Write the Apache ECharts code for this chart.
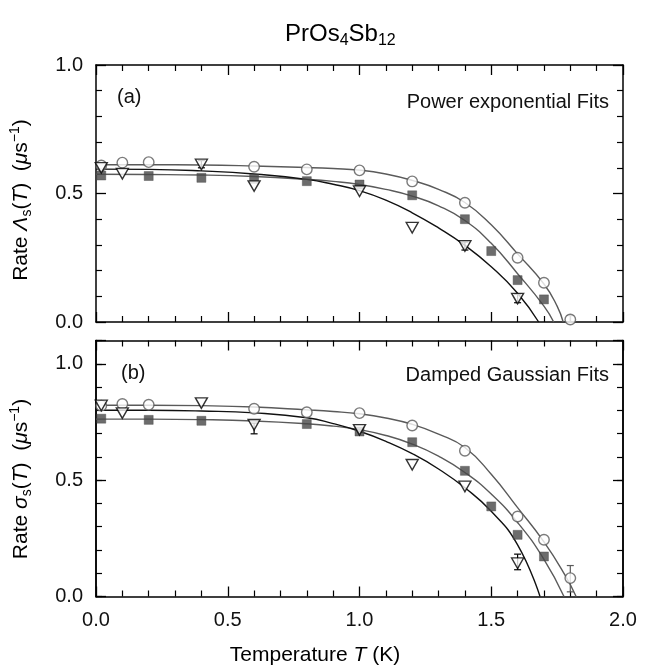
<!DOCTYPE html>
<html>
<head>
<meta charset="utf-8">
<script src="https://cdn.jsdelivr.net/npm/echarts@6/dist/echarts.min.js"></script>
<style>
html,body{margin:0;padding:0;background:#fff;}
#chart{width:649px;height:668px;}
</style>
</head>
<body>
<div id="chart"></div>
<script>
// ---------- Data: panel (a) Power exponential fits ----------
const aCircT = [0.02, 0.1, 0.2, 0.6, 0.8, 1.0, 1.2, 1.4, 1.6, 1.7, 1.8];
const aCircV = [0.609, 0.620, 0.622, 0.604, 0.594, 0.590, 0.547, 0.464, 0.250, 0.153, 0.010];
const aSqT   = [0.02, 0.2, 0.4, 0.6, 0.8, 1.0, 1.2, 1.4, 1.5, 1.6, 1.7];
const aSqV   = [0.570, 0.568, 0.561, 0.557, 0.548, 0.535, 0.493, 0.400, 0.276, 0.163, 0.088];
const aTriT  = [0.02, 0.1, 0.4, 0.6, 1.0, 1.2, 1.4, 1.6];
const aTriV  = [0.600, 0.577, 0.613, 0.529, 0.509, 0.367, 0.296, 0.091];

// fit curves
const aFitCircT = [0, 0.2, 0.4, 0.6, 0.8, 0.9, 1.0, 1.1, 1.2, 1.3, 1.4, 1.5, 1.6, 1.7, 1.75, 1.773];
const aFitCircV = [0.612, 0.612, 0.611, 0.607, 0.601, 0.597, 0.591, 0.576, 0.551, 0.516, 0.465, 0.378, 0.265, 0.148, 0.062, 0.0];
const aFitSqT   = [0, 0.2, 0.4, 0.6, 0.8, 0.9, 1.0, 1.1, 1.2, 1.3, 1.4, 1.5, 1.6, 1.7, 1.737];
const aFitSqV   = [0.575, 0.574, 0.572, 0.566, 0.555, 0.547, 0.535, 0.516, 0.490, 0.452, 0.395, 0.306, 0.188, 0.062, 0.0];
const aFitTriT  = [0, 0.2, 0.4, 0.6, 0.8, 0.9, 1.0, 1.1, 1.2, 1.3, 1.4, 1.5, 1.6, 1.68];
const aFitTriV  = [0.595, 0.594, 0.588, 0.576, 0.555, 0.536, 0.511, 0.474, 0.425, 0.366, 0.298, 0.215, 0.112, 0.0];

// error bars [T, low, high]
const aErrCirc = [[1.8, 0.0, 0.025]];
const aErrTri  = [[0.4, 0.600, 0.628], [1.4, 0.280, 0.311], [1.6, 0.075, 0.108]];

// ---------- Data: panel (b) Damped Gaussian fits ----------
const bCircT = [0.02, 0.1, 0.2, 0.6, 0.8, 1.0, 1.2, 1.4, 1.6, 1.7, 1.8];
const bCircV = [0.820, 0.827, 0.824, 0.807, 0.792, 0.788, 0.735, 0.626, 0.344, 0.244, 0.079];
const bSqT   = [0.02, 0.2, 0.4, 0.8, 1.0, 1.2, 1.4, 1.5, 1.6, 1.7];
const bSqV   = [0.764, 0.759, 0.755, 0.741, 0.709, 0.663, 0.540, 0.387, 0.265, 0.172];
const bTriT  = [0.02, 0.1, 0.4, 0.6, 1.0, 1.2, 1.4, 1.6];
const bTriV  = [0.821, 0.788, 0.831, 0.738, 0.716, 0.566, 0.473, 0.143];

const bFitCircT = [0, 0.2, 0.4, 0.6, 0.8, 0.9, 1.0, 1.1, 1.2, 1.3, 1.4, 1.5, 1.6, 1.7, 1.78, 1.822];
const bFitCircV = [0.822, 0.822, 0.820, 0.814, 0.802, 0.795, 0.785, 0.767, 0.740, 0.698, 0.640, 0.525, 0.382, 0.235, 0.092, 0.0];
const bFitSqT   = [0, 0.2, 0.4, 0.6, 0.8, 0.9, 1.0, 1.1, 1.2, 1.3, 1.4, 1.5, 1.6, 1.7, 1.776];
const bFitSqV   = [0.762, 0.762, 0.760, 0.754, 0.742, 0.732, 0.717, 0.692, 0.655, 0.603, 0.533, 0.440, 0.318, 0.160, 0.0];
const bFitTriT  = [0, 0.2, 0.4, 0.6, 0.8, 0.9, 1.0, 1.1, 1.2, 1.3, 1.4, 1.5, 1.6, 1.685];
const bFitTriV  = [0.800, 0.800, 0.797, 0.789, 0.768, 0.743, 0.710, 0.667, 0.614, 0.548, 0.467, 0.366, 0.222, 0.0];

const bErrCirc = [[1.8, 0.020, 0.133]];
const bErrTri  = [[0.6, 0.699, 0.745], [1.6, 0.115, 0.182]];

const xTicks = ['0.0', '0.5', '1.0', '1.5', '2.0'];

// ---------- helpers ----------
const zip = (xs, ys) => xs.map((x, i) => [x, ys[i]]);
const FONT = '"Liberation Sans", Arial, sans-serif';
const GREY = '#5a5a5a';
const SQ = '#474747';

function baseAxis(extra) {
  return Object.assign({
    type: 'value',
    axisLine: { show: true, onZero: false, lineStyle: { color: '#000', width: 1.5 } },
    axisTick: { show: true, inside: true, length: 10, lineStyle: { color: '#000', width: 1.3 } },
    splitLine: { show: false },
    axisLabel: { show: false }
  }, extra);
}
const labelStyle = { show: true, color: '#111', fontSize: 20, fontFamily: FONT };

function xAxes(grid, showLabels) {
  const common = { gridIndex: grid, min: 0, max: 2, interval: 0.5,
    minorTick: { show: true, splitNumber: 5, length: 6, lineStyle: { color: '#000', width: 1.2 } } };
  return [
    baseAxis(Object.assign({}, common, { position: 'bottom',
      axisLabel: showLabels ? Object.assign({}, labelStyle, { margin: 14,
        formatter: v => xTicks[Math.round(v * 2)] }) : { show: false } })),
    baseAxis(Object.assign({}, common, { position: 'top' }))
  ];
}

function fmtY(v) {
  const k = Math.round(v * 2);
  return Math.abs(v * 2 - k) < 1e-6 ? v.toFixed(1) : '';
}

const minorY = { show: true, splitNumber: 5, length: 6, lineStyle: { color: '#000', width: 1.2 } };
const yAxes = [
  // grid 0
  baseAxis({ gridIndex: 0, position: 'left', min: 0, max: 1.0, interval: 0.5, minorTick: minorY,
    axisLabel: Object.assign({}, labelStyle, { margin: 13, formatter: fmtY }) }),
  baseAxis({ gridIndex: 0, position: 'right', min: 0, max: 1.0, interval: 0.5, minorTick: minorY }),
  // grid 1 (max 1.1): major ticks + separate minor ticks axis
  baseAxis({ gridIndex: 1, position: 'left', min: 0, max: 1.1, interval: 0.5,
    axisLabel: Object.assign({}, labelStyle, { margin: 13, formatter: fmtY }) }),
  baseAxis({ gridIndex: 1, position: 'left', min: 0, max: 1.1, interval: 0.1,
    axisTick: { show: true, inside: true, length: 6, lineStyle: { color: '#000', width: 1.2 } } }),
  baseAxis({ gridIndex: 1, position: 'right', min: 0, max: 1.1, interval: 0.5 }),
  baseAxis({ gridIndex: 1, position: 'right', min: 0, max: 1.1, interval: 0.1,
    axisTick: { show: true, inside: true, length: 6, lineStyle: { color: '#000', width: 1.2 } } })
];

function fitLine(xs, ys, color, xi, yi) {
  return { type: 'line', xAxisIndex: xi, yAxisIndex: yi, data: zip(xs, ys),
    smooth: 0.5, showSymbol: false, symbol: 'none', silent: true, z: 2,
    lineStyle: { color: color, width: 1.4 } };
}
function scatter(xs, ys, kind, xi, yi) {
  const s = { type: 'scatter', xAxisIndex: xi, yAxisIndex: yi, data: zip(xs, ys), z: 5, silent: true };
  if (kind === 'circ') {
    s.symbol = 'circle'; s.symbolSize = 10.5;
    s.itemStyle = { color: '#fff', borderColor: GREY, borderWidth: 1.4 };
  } else if (kind === 'sq') {
    s.symbol = 'rect'; s.symbolSize = 9;
    s.itemStyle = { color: SQ, borderColor: SQ, borderWidth: 0.5 };
  } else {
    s.symbol = 'triangle'; s.symbolSize = [12, 10.5]; s.symbolRotate = 180;
    s.itemStyle = { color: '#fff', borderColor: '#000', borderWidth: 1.4 };
  }
  return s;
}
function errBars(data, color, xi, yi) {
  return { type: 'custom', xAxisIndex: xi, yAxisIndex: yi, data: data, z: 4, silent: true,
    renderItem: function (params, api) {
      const lo = api.coord([api.value(0), api.value(1)]);
      const hi = api.coord([api.value(0), api.value(2)]);
      const st = { stroke: color, lineWidth: 1.2 };
      return { type: 'group', children: [
        { type: 'line', shape: { x1: lo[0], y1: lo[1], x2: hi[0], y2: hi[1] }, style: st },
        { type: 'line', shape: { x1: lo[0] - 3.5, y1: lo[1], x2: lo[0] + 3.5, y2: lo[1] }, style: st },
        { type: 'line', shape: { x1: hi[0] - 3.5, y1: hi[1], x2: hi[0] + 3.5, y2: hi[1] }, style: st }
      ]};
    } };
}

const series = [
  fitLine(aFitCircT, aFitCircV, GREY, 0, 0),
  fitLine(aFitSqT, aFitSqV, GREY, 0, 0),
  fitLine(aFitTriT, aFitTriV, '#111', 0, 0),
  errBars(aErrCirc, GREY, 0, 0),
  errBars(aErrTri, '#000', 0, 0),
  scatter(aCircT, aCircV, 'circ', 0, 0),
  scatter(aSqT, aSqV, 'sq', 0, 0),
  scatter(aTriT, aTriV, 'tri', 0, 0),

  fitLine(bFitCircT, bFitCircV, GREY, 2, 2),
  fitLine(bFitSqT, bFitSqV, GREY, 2, 2),
  fitLine(bFitTriT, bFitTriV, '#111', 2, 2),
  errBars(bErrCirc, GREY, 2, 2),
  errBars(bErrTri, '#000', 2, 2),
  scatter(bCircT, bCircV, 'circ', 2, 2),
  scatter(bSqT, bSqV, 'sq', 2, 2),
  scatter(bTriT, bTriV, 'tri', 2, 2)
];

const richName = {
  n: { fontSize: 21, fontFamily: FONT, color: '#111', lineHeight: 26 },
  i: { fontSize: 21, fontFamily: FONT, color: '#111', fontStyle: 'italic', lineHeight: 26 },
  sub: { fontSize: 14, fontFamily: FONT, color: '#111', verticalAlign: 'bottom', lineHeight: 14 },
  sup: { fontSize: 14, fontFamily: FONT, color: '#111', verticalAlign: 'top', lineHeight: 14 }
};

const chart = echarts.init(document.getElementById('chart'), null, { renderer: 'canvas' });
chart.setOption({
  backgroundColor: '#fff',
  animation: false,
  grid: [
    { left: 96, top: 65, width: 527, height: 257 },
    { left: 96, top: 340.5, width: 527, height: 256 }
  ],
  xAxis: xAxes(0, false).concat(xAxes(1, true)),
  yAxis: yAxes,
  series: series,
  graphic: [
    { type: 'text', left: 285, top: 22, style: {
      text: '{t|PrOs}{s|4}{t|Sb}{s|12}', rich: {
        t: { fontSize: 24, fontFamily: FONT, color: '#111', lineHeight: 30 },
        s: { fontSize: 16, fontFamily: FONT, color: '#111', verticalAlign: 'bottom', lineHeight: 16 }
      } } },
    { type: 'text', x: 117, y: 97, style: { text: '(a)', fontSize: 20, fontFamily: FONT, fill: '#111',
      verticalAlign: 'middle', align: 'left' } },
    { type: 'text', x: 609, y: 102, style: { text: 'Power exponential Fits', fontSize: 20, fontFamily: FONT,
      fill: '#111', verticalAlign: 'middle', align: 'right' } },
    { type: 'text', x: 121, y: 373, style: { text: '(b)', fontSize: 20, fontFamily: FONT, fill: '#111',
      verticalAlign: 'middle', align: 'left' } },
    { type: 'text', x: 609, y: 375, style: { text: 'Damped Gaussian Fits', fontSize: 20, fontFamily: FONT,
      fill: '#111', verticalAlign: 'middle', align: 'right' } },
    { type: 'text', x: 21, y: 200, rotation: Math.PI / 2, style: {
      text: '{n|Rate }{i|Λ}{sub|s}{n|(}{i|T}{n|)  (}{i|μ}{n|s}{sup|−1}{n|)}', rich: richName,
      align: 'center', verticalAlign: 'middle' } },
    { type: 'text', x: 21, y: 479, rotation: Math.PI / 2, style: {
      text: '{n|Rate }{i|σ}{sub|s}{n|(}{i|T}{n|)  (}{i|μ}{n|s}{sup|−1}{n|)}', rich: richName,
      align: 'center', verticalAlign: 'middle' } },
    { type: 'text', x: 315, y: 655, style: {
      text: '{n|Temperature }{i|T}{n| (K)}', rich: richName, align: 'center', verticalAlign: 'middle' } }
  ]
});
</script>
</body>
</html>
